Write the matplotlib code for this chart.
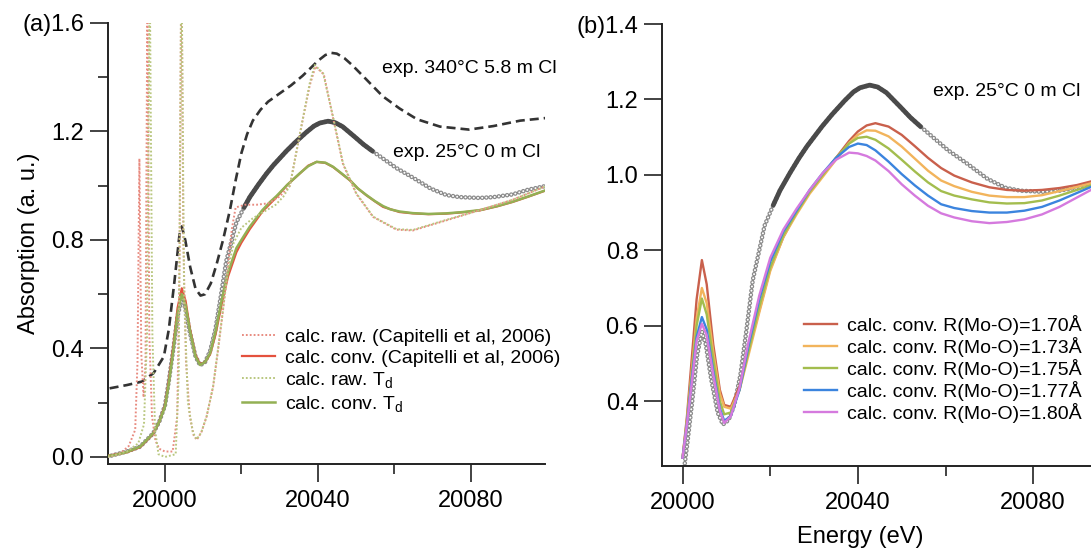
import numpy as np
import matplotlib
matplotlib.use('Agg')
import matplotlib.pyplot as plt

plt.rcParams['font.family'] = ['Liberation Sans', 'DejaVu Sans']
plt.rcParams['mathtext.default'] = 'regular'
plt.rcParams['lines.scale_dashes'] = False

###################### Data (energy eV, absorption) ######################
# panel (a)
exp340 = np.array([(19985.5, 0.253), (19990, 0.265), (19994, 0.278), (19997, 0.309), (19999.7, 0.37),
                   (20001, 0.47), (20002.5, 0.65), (20003.8, 0.82), (20004.4, 0.85), (20005.3, 0.80),
                   (20006.6, 0.70), (20008, 0.62), (20009.3, 0.595), (20010.5, 0.60), (20012, 0.64),
                   (20013.5, 0.71), (20015.2, 0.80), (20017, 0.91), (20018.5, 1.02), (20020, 1.12),
                   (20021.5, 1.19), (20023, 1.24), (20025, 1.28), (20027, 1.31), (20030, 1.34),
                   (20033, 1.37), (20036, 1.405), (20038, 1.432), (20040, 1.46), (20042, 1.482),
                   (20043.5, 1.49), (20045, 1.487), (20047, 1.47), (20049, 1.445), (20052.5, 1.395),
                   (20057, 1.33), (20061.4, 1.285), (20066, 1.245), (20072, 1.218), (20079.6, 1.207),
                   (20086, 1.22), (20093, 1.24), (20100, 1.25)])

exp25 = np.array([(19986, 0.005), (19990, 0.02), (19993.5, 0.038), (19996.9, 0.087), (19998.5, 0.13),
                  (20000, 0.19), (20001, 0.28), (20002.2, 0.40), (20003.3, 0.52), (20004.4, 0.585),
                  (20005.3, 0.55), (20006.5, 0.46), (20008, 0.37), (20009.2, 0.338), (20010.5, 0.35),
                  (20011.8, 0.39), (20013.2, 0.47), (20014.7, 0.60), (20016, 0.72), (20017.5, 0.80),
                  (20018.7, 0.865), (20020.7, 0.92), (20022.2, 0.958), (20024.5, 1.005), (20026.6, 1.045),
                  (20028.4, 1.076), (20031.8, 1.128), (20034.1, 1.16), (20037, 1.197), (20039, 1.22),
                  (20040.5, 1.231), (20042.7, 1.238), (20044.5, 1.233), (20046.5, 1.218), (20049.7, 1.18),
                  (20052, 1.152), (20054.3, 1.128), (20056.8, 1.103), (20060.6, 1.065), (20064.9, 1.03),
                  (20069.5, 0.99), (20073.6, 0.966), (20077.1, 0.958), (20082.4, 0.955), (20086, 0.958),
                  (20091, 0.968), (20095, 0.985), (20100, 1.0)])

rawCap = np.array([(19985, 0.0), (19988, 0.01), (19990.5, 0.04), (19992.2, 0.10), (19992.8, 0.35),
                   (19993.3, 1.10), (19993.8, 0.38), (19994.4, 0.22), (19994.9, 0.35), (19995.4, 1.75),
                   (19995.9, 0.45), (19996.6, 0.15), (19997.5, 0.06), (19998.5, 0.03), (20000, 0.02),
                   (20002, 0.02), (20003.2, 0.15), (20003.8, 0.7), (20004.3, 1.9), (20004.8, 0.8),
                   (20005.5, 0.35), (20006.5, 0.15), (20007.5, 0.08), (20008.3, 0.063), (20009.5, 0.09),
                   (20010.9, 0.149), (20012.6, 0.259), (20013.9, 0.395), (20015.2, 0.542), (20016.5, 0.70),
                   (20017.5, 0.84), (20018.5, 0.92), (20021, 0.93), (20024, 0.93), (20027, 0.935),
                   (20030, 0.96), (20032.7, 1.0), (20035.3, 1.19), (20037.9, 1.37), (20039.4, 1.44),
                   (20041.6, 1.41), (20044, 1.25), (20046.6, 1.08), (20050.1, 0.97), (20054.5, 0.885),
                   (20060.6, 0.838), (20064.9, 0.835), (20073.6, 0.872), (20082.4, 0.91), (20091, 0.948),
                   (20100, 1.0)])

convCap = np.array([(19985, 0.004), (19990, 0.017), (19993.5, 0.036), (19996.9, 0.085), (19998.5, 0.13),
                    (20000, 0.19), (20001, 0.28), (20002.2, 0.41), (20003.3, 0.55), (20004.4, 0.622),
                    (20005.4, 0.575), (20006.5, 0.475), (20008, 0.375), (20009.2, 0.342), (20010.5, 0.35),
                    (20011.8, 0.378), (20013.2, 0.45), (20014.8, 0.56), (20016.5, 0.665), (20018.7, 0.755),
                    (20020, 0.79), (20022.2, 0.84), (20025.5, 0.905), (20029.2, 0.958), (20032, 1.003),
                    (20035.3, 1.045), (20037.5, 1.074), (20039.7, 1.088), (20042, 1.084), (20044, 1.069),
                    (20046, 1.047), (20048.4, 1.02), (20050.5, 0.99), (20052.7, 0.965), (20055, 0.942),
                    (20057.1, 0.922), (20061.4, 0.903), (20064.9, 0.898), (20069, 0.895), (20073.6, 0.897),
                    (20078, 0.902), (20082.4, 0.909), (20087, 0.924), (20091, 0.94), (20095, 0.959),
                    (20100, 0.984)])

rawTd = np.array([(19985, 0.0), (19990, 0.02), (19993, 0.05), (19994.5, 0.12), (19995.3, 0.45),
                  (19996.0, 1.8), (19996.7, 0.45), (19997.4, 0.1), (19998.3, 0.01), (20000, 0.0),
                  (20002.8, 0.01), (20003.6, 0.3), (20004.3, 1.9), (20005.0, 0.6), (20006.0, 0.2),
                  (20007.3, 0.09), (20008.3, 0.065), (20009.5, 0.09), (20010.9, 0.15), (20012.6, 0.26),
                  (20013.9, 0.40), (20015.2, 0.545), (20016.5, 0.69), (20018, 0.79), (20020, 0.845),
                  (20023, 0.88), (20026, 0.905), (20029, 0.93), (20031, 0.96), (20032.7, 1.0),
                  (20035.3, 1.19), (20037.9, 1.378), (20039.2, 1.445), (20041.4, 1.415), (20044, 1.255),
                  (20046.6, 1.083), (20050.1, 0.972), (20054.5, 0.886), (20060.6, 0.84), (20064.9, 0.837),
                  (20073.6, 0.874), (20082.4, 0.91), (20091, 0.948), (20100, 1.0)])

convTd = np.array([(19985, 0.004), (19986.9, 0.007), (19990, 0.018), (19993.5, 0.038), (19996.9, 0.087),
                   (19998.5, 0.13), (20000, 0.185), (20001, 0.27), (20002.2, 0.395), (20003.3, 0.53),
                   (20004.4, 0.60), (20005.4, 0.56), (20006.5, 0.468), (20008, 0.37), (20009.2, 0.339),
                   (20010.5, 0.35), (20011.8, 0.382), (20013.2, 0.46), (20014.8, 0.575), (20016.5, 0.68),
                   (20018.7, 0.77), (20020, 0.80), (20022.2, 0.849), (20025.5, 0.91), (20027.5, 0.94),
                   (20029.2, 0.962), (20032, 1.003), (20035.3, 1.046), (20037.5, 1.072), (20039.7, 1.088),
                   (20042, 1.085), (20044, 1.07), (20046, 1.048), (20048.4, 1.021), (20050.5, 0.99),
                   (20052.7, 0.966), (20055, 0.943), (20057.1, 0.925), (20059, 0.913), (20061.4, 0.905),
                   (20064.9, 0.899), (20069, 0.896), (20073.6, 0.898), (20078, 0.903), (20082.4, 0.91),
                   (20087, 0.925), (20091, 0.941), (20095, 0.96), (20100, 0.985)])

# panel (b): shared energy grid for the R(Mo-O) series
energyB = [20000, 20001, 20002, 20003.2, 20004.4, 20005.5, 20007, 20008.5, 20009.5, 20011, 20013,
           20015, 20017.5, 20020, 20023, 20026, 20029, 20032, 20035, 20038, 20040, 20042, 20044,
           20047, 20050, 20053, 20056, 20059, 20062, 20066, 20070, 20074, 20078, 20082, 20086,
           20090, 20094]
r170 = [0.25, 0.36, 0.50, 0.67, 0.774, 0.71, 0.55, 0.43, 0.39, 0.385, 0.44, 0.53, 0.64, 0.75, 0.835,
        0.90, 0.955, 1.00, 1.045, 1.09, 1.115, 1.131, 1.137, 1.128, 1.106, 1.076, 1.045, 1.018, 0.998,
        0.98, 0.967, 0.96, 0.958, 0.96, 0.965, 0.973, 0.985]
r173 = [0.25, 0.35, 0.47, 0.62, 0.70, 0.66, 0.53, 0.42, 0.385, 0.38, 0.43, 0.52, 0.635, 0.745, 0.835,
        0.895, 0.95, 0.995, 1.04, 1.085, 1.106, 1.118, 1.117, 1.102, 1.075, 1.043, 1.011, 0.985, 0.97,
        0.955, 0.945, 0.941, 0.941, 0.946, 0.957, 0.968, 0.98]
r175 = [0.25, 0.35, 0.46, 0.60, 0.672, 0.63, 0.51, 0.40, 0.365, 0.37, 0.43, 0.53, 0.65, 0.755, 0.84,
        0.90, 0.955, 1.0, 1.045, 1.083, 1.098, 1.101, 1.093, 1.07, 1.04, 1.009, 0.98, 0.957, 0.945,
        0.935, 0.927, 0.924, 0.925, 0.932, 0.945, 0.96, 0.975]
r177 = [0.25, 0.34, 0.45, 0.57, 0.623, 0.59, 0.48, 0.38, 0.348, 0.36, 0.43, 0.545, 0.67, 0.77, 0.85,
        0.905, 0.96, 1.005, 1.045, 1.074, 1.083, 1.079, 1.065, 1.035, 1.002, 0.972, 0.945, 0.922, 0.912,
        0.904, 0.90, 0.90, 0.905, 0.915, 0.932, 0.952, 0.972]
r180 = [0.25, 0.34, 0.44, 0.56, 0.605, 0.575, 0.47, 0.375, 0.342, 0.36, 0.435, 0.555, 0.68, 0.78, 0.855,
        0.91, 0.96, 1.005, 1.04, 1.059, 1.057, 1.05, 1.038, 1.01, 0.975, 0.945, 0.918, 0.898, 0.887,
        0.877, 0.872, 0.875, 0.882, 0.895, 0.915, 0.94, 0.965]
seriesB = [r170, r173, r175, r177, r180]
labelsB = ['calc. conv. R(Mo-O)=1.70Å', 'calc. conv. R(Mo-O)=1.73Å', 'calc. conv. R(Mo-O)=1.75Å',
           'calc. conv. R(Mo-O)=1.77Å', 'calc. conv. R(Mo-O)=1.80Å']
colorsB = ['#c9604c', '#f2b45c', '#a3bd4e', '#3b84de', '#d57ade']

labelsA = ['calc. raw. (Capitelli et al, 2006)', 'calc. conv. (Capitelli et al, 2006)',
           'calc. raw. T$_d$', 'calc. conv. T$_d$']
xticksMajor = [20000, 20040, 20080]
xticksMinor = [20020, 20060]
yticksA = [0.0, 0.4, 0.8, 1.2, 1.6]
yticklabelsA = ['0.0', '0.4', '0.8', '1.2', '(a)1.6']
yticksB = [0.4, 0.6, 0.8, 1.0, 1.2, 1.4]
yticklabelsB = ['0.4', '0.6', '0.8', '1.0', '1.2', '(b)1.4']
denseRange = (20019, 20055)   # exp. points are densely packed here


def Style(ax):
    for s in ['top', 'right']:
        ax.spines[s].set_visible(False)
    for s in ['left', 'bottom']:
        ax.spines[s].set_linewidth(1.4)
        ax.spines[s].set_color('#222222')
    ax.tick_params(which='major', direction='out', length=13, width=1.2, labelsize=17, color='#222222')
    ax.tick_params(which='minor', direction='out', length=7, width=1.2, color='#222222')
    ax.tick_params(axis='x', which='major', pad=6)
    ax.tick_params(axis='y', which='major', pad=4)
    ax.set_xticks(xticksMajor)
    ax.set_xticklabels([str(t) for t in xticksMajor])
    ax.set_xticks(xticksMinor, minor=True)


def Beads(ax, data):
    x, y = data[:, 0], data[:, 1]
    pattern = (0, (0.01, 3.0))
    ax.plot(x, y, color='#8a8a8a', lw=3.3, ls=pattern, dash_capstyle='round', zorder=2)
    ax.plot(x, y, color='white', lw=1.5, ls=pattern, dash_capstyle='round', zorder=2.1)
    m = (x >= denseRange[0]) & (x <= denseRange[1])
    ax.plot(x[m], y[m], color='#4a4a4a', lw=3.4, solid_capstyle='round', zorder=2.2)


fig = plt.figure(figsize=(10.91, 5.49), dpi=100)
W, H = 1091., 549.
axA = fig.add_axes([107.7 / W, 1 - 464 / H, (545 - 107.7) / W, (464 - 23) / H])
axB = fig.add_axes([662 / W, 1 - 466 / H, (1091 - 662) / W, (466 - 24) / H])

###################### Panel (a) ######################
Style(axA)
Beads(axA, exp25)
axA.plot(exp340[:, 0], exp340[:, 1], color='#333333', lw=1.9, ls=(0, (6.5, 3.6)), zorder=4)
hRawC, = axA.plot(rawCap[:, 0], rawCap[:, 1], color='#e88b80', lw=1.4, ls=(0, (1.3, 1.5)), zorder=5)
hRawT, = axA.plot(rawTd[:, 0], rawTd[:, 1], color='#b9c77f', lw=1.4, ls=(0, (1.3, 1.5)), zorder=5)
hConvC, = axA.plot(convCap[:, 0], convCap[:, 1], color='#e4513e', lw=1.6, zorder=3)
hConvT, = axA.plot(convTd[:, 0], convTd[:, 1], color='#93b054', lw=1.8, zorder=3.1)

axA.set_xlim(19985, 20099.5)
axA.set_ylim(-0.026, 1.6)
axA.set_yticks(yticksA)
axA.set_yticklabels(yticklabelsA)
axA.set_yticks([0.2, 0.6, 1.0, 1.4], minor=True)
axA.set_ylabel('Absorption (a. u.)', fontsize=17)
axA.yaxis.set_label_coords(-0.155, 0.5)

axA.text(20056.7, 1.434, 'exp. 340°C 5.8 m Cl', fontsize=14, va='center', ha='left', clip_on=False)
axA.text(20059.6, 1.121, 'exp. 25°C 0 m Cl', fontsize=14, va='center', ha='left', clip_on=False)

axA.legend([hRawC, hConvC, hRawT, hConvT], labelsA, loc='upper left',
           bbox_to_anchor=(241.6 / W, 1 - 328 / H), bbox_transform=fig.transFigure,
           frameon=False, fontsize=14, handlelength=1.7, handletextpad=0.55,
           labelspacing=0.18, borderpad=0, borderaxespad=0)

###################### Panel (b) ######################
Style(axB)
Beads(axB, exp25)
handlesB = []
for vals, col in zip(seriesB, colorsB):
    h, = axB.plot(energyB, vals, color=col, lw=1.7, zorder=3)
    handlesB.append(h)

axB.set_xlim(19995.3, 20093.2)
axB.set_ylim(0.228, 1.4)
axB.set_yticks(yticksB)
axB.set_yticklabels(yticklabelsB)
axB.set_xlabel('Energy (eV)', fontsize=17)
axB.xaxis.set_label_coords((860 - 662) / 429., -0.135)

axB.text(20057.1, 1.221, 'exp. 25°C 0 m Cl', fontsize=14, va='center', ha='left', clip_on=False)

axB.legend(handlesB, labelsB, loc='upper left',
           bbox_to_anchor=(804 / W, 1 - 315 / H), bbox_transform=fig.transFigure,
           frameon=False, fontsize=14, handlelength=1.7, handletextpad=0.5,
           labelspacing=0.1, borderpad=0, borderaxespad=0)

plt.savefig('out.png', dpi=100)
